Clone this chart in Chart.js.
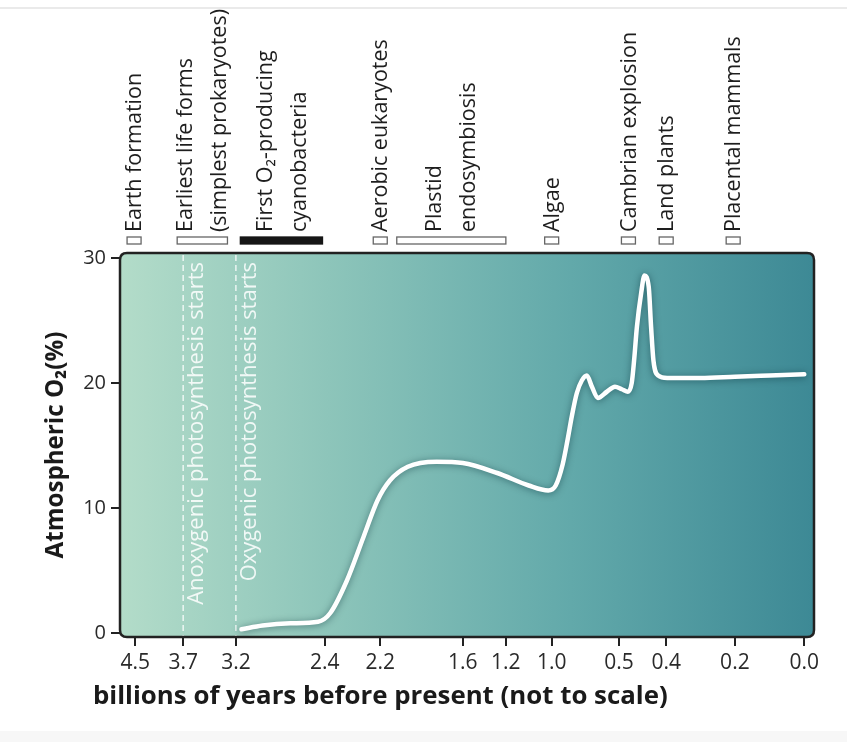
<!DOCTYPE html>
<html><head><meta charset="utf-8">
<script src="https://cdn.jsdelivr.net/npm/chart.js@4.4.1/dist/chart.umd.min.js"></script>
<style>html,body{margin:0;padding:0;background:#fff;}#wrap{width:847px;height:742px;position:relative;}</style>
</head><body><div id="wrap"><canvas id="c"></canvas></div>
<script>
// Not-to-scale time axis: tick values (Ga) and their slot on a 0-100 axis
const tickGa     = [4.5, 3.7, 3.2, 2.4, 2.2, 1.6, 1.2, 1.0, 0.5, 0.4, 0.2, 0.0];
const tickLabels = ['4.5','3.7','3.2','2.4','2.2','1.6','1.2','1.0','0.5','0.4','0.2','0.0'];
const tickSlot   = [2.2, 9.1, 16.7, 29.5, 37.5, 49.4, 55.6, 62.2, 71.9, 78.7, 88.6, 98.6];
const yTicks = [0, 10, 20, 30];

// Atmospheric O2 curve (billions of years before present, %)
const curveGa = [3.15, 2.96, 2.71, 2.46, 2.38, 2.32, 2.26, 2.21, 2.13, 2.00, 1.79, 1.60, 1.28, 1.10, 1.015, 0.97, 0.918, 0.881, 0.851, 0.813, 0.776, 0.739, 0.701, 0.657, 0.590, 0.530, 0.494, 0.481, 0.473, 0.468, 0.462, 0.453, 0.446, 0.437, 0.432, 0.427, 0.417, 0.397, 0.30, 0.20, 0.10, 0.0];
const curveO2 = [0.3, 0.6, 0.78, 0.9, 1.6, 4.2, 7.7, 10.6, 12.2, 13.3, 13.7, 13.6, 12.8, 11.8, 11.4, 11.8, 13.5, 15.5, 17.3, 19.2, 20.2, 20.6, 19.7, 18.8, 19.3, 19.7, 19.5, 19.3, 20.0, 21.8, 24.5, 27.2, 28.6, 27.7, 24.5, 21.8, 20.6, 20.4, 20.4, 20.5, 20.6, 20.7];

// Events along the top
const eventNames = [
  ['Earth formation'],
  ['Earliest life forms', '(simplest prokaryotes)'],
  ['First O₂-producing', 'cyanobacteria'],
  ['Aerobic eukaryotes'],
  ['Plastid', 'endosymbiosis'],
  ['Algae'],
  ['Cambrian explosion'],
  ['Land plants'],
  ['Placental mammals']
];
const eventStartGa = [4.52, 3.8, 3.16, 2.2, 2.08, 1.0, 0.48, 0.4, 0.205];
const eventEndGa   = [4.52, 3.28, 2.42, 2.2, 1.2, 1.0, 0.48, 0.4, 0.205];
const eventFilled  = [false, false, true, false, false, false, false, false, false];

// Dashed markers inside the plot
const markerGa   = [3.7, 3.2];
const markerText = ['Anoxygenic photosynthesis starts', 'Oxygenic photosynthesis starts'];

const xTitle = 'billions of years before present (not to scale)';
const yTitle = 'Atmospheric O₂(%)';
const titleFamily = '"Liberation Sans Narrow", "Open Sans", sans-serif';

// fit a bold title font size to a target text width
function fitSize(text, target) {
  const m = document.createElement('canvas').getContext('2d');
  m.font = 'bold 100px ' + titleFamily;
  return Math.min(30, 100 * target / m.measureText(text).width);
}
const xTitleSize = fitSize(xTitle, 575);
const yTitleSize = fitSize(yTitle, 227);

function gaToSlot(g) {
  let i = 0;
  while (i < tickGa.length - 2 && g < tickGa[i + 1]) i++;
  const g0 = tickGa[i], g1 = tickGa[i + 1], s0 = tickSlot[i], s1 = tickSlot[i + 1];
  return s0 + (g - g0) / (g1 - g0) * (s1 - s0);
}

const points = curveGa.map((g, i) => ({ x: gaToSlot(g), y: curveO2[i] }));

function roundRectPath(ctx, x, y, w, h, r) {
  ctx.beginPath();
  ctx.moveTo(x + r, y);
  ctx.lineTo(x + w - r, y);
  ctx.quadraticCurveTo(x + w, y, x + w, y + r);
  ctx.lineTo(x + w, y + h - r);
  ctx.quadraticCurveTo(x + w, y + h, x + w - r, y + h);
  ctx.lineTo(x + r, y + h);
  ctx.quadraticCurveTo(x, y + h, x, y + h - r);
  ctx.lineTo(x, y + r);
  ctx.quadraticCurveTo(x, y, x + r, y);
  ctx.closePath();
}

const decor = {
  id: 'decor',
  beforeDraw(chart) {
    const { ctx, chartArea: a, width, height } = chart;
    ctx.save();
    ctx.strokeStyle = '#e3e3e3';
    ctx.lineWidth = 1.5;
    ctx.beginPath(); ctx.moveTo(0, 8); ctx.lineTo(width, 8); ctx.stroke();
    ctx.fillStyle = '#f7f7f7';
    ctx.fillRect(0, height - 11, width, 11);
    const grad = ctx.createLinearGradient(a.left, 0, a.right, 0);
    grad.addColorStop(0, '#b3dcc9');
    grad.addColorStop(0.3, '#8dc5ba');
    grad.addColorStop(0.65, '#62a9aa');
    grad.addColorStop(1, '#3d8995');
    roundRectPath(ctx, a.left, a.top, a.right - a.left, a.bottom - a.top, 7);
    ctx.fillStyle = grad;
    ctx.fill();
    ctx.restore();
  },
  beforeDatasetsDraw(chart) {
    const { ctx, chartArea: a, scales: { x } } = chart;
    ctx.save();
    markerGa.forEach((g, i) => {
      const px = x.getPixelForValue(gaToSlot(g));
      ctx.strokeStyle = 'rgba(255,255,255,0.85)';
      ctx.lineWidth = 1.4;
      ctx.setLineDash([6, 4]);
      ctx.beginPath(); ctx.moveTo(px, a.top + 2); ctx.lineTo(px, a.bottom); ctx.stroke();
      ctx.setLineDash([]);
      ctx.save();
      ctx.translate(px + 14, a.top + 9);
      ctx.rotate(-Math.PI / 2);
      ctx.fillStyle = 'rgba(255,255,255,0.85)';
      ctx.font = '22px "Open Sans"';
      ctx.textAlign = 'right';
      ctx.textBaseline = 'middle';
      ctx.fillText(markerText[i], 0, 0);
      ctx.restore();
    });
    ctx.restore();
  },
  beforeDatasetDraw(chart) {
    const ctx = chart.ctx;
    ctx.save();
    ctx.shadowColor = 'rgba(0,40,50,0.5)';
    ctx.shadowBlur = 7;
    ctx.shadowOffsetY = 1;
  },
  afterDatasetDraw(chart) {
    chart.ctx.restore();
  },
  afterDraw(chart) {
    const { ctx, chartArea: a, scales: { x } } = chart;
    ctx.save();
    // plot frame
    roundRectPath(ctx, a.left, a.top, a.right - a.left, a.bottom - a.top, 7);
    ctx.strokeStyle = '#222';
    ctx.lineWidth = 2.5;
    ctx.stroke();
    // event boxes & labels
    const boxTop = a.top - 16, boxH = 7;
    eventNames.forEach((lines, i) => {
      let x0 = x.getPixelForValue(gaToSlot(eventStartGa[i]));
      let x1 = x.getPixelForValue(gaToSlot(eventEndGa[i]));
      if (x1 - x0 < 14) { const c = (x0 + x1) / 2; x0 = c - 7; x1 = c + 7; }
      ctx.fillStyle = eventFilled[i] ? '#161616' : '#fff';
      ctx.fillRect(x0, boxTop, x1 - x0, boxH);
      ctx.strokeStyle = eventFilled[i] ? '#161616' : '#666';
      ctx.lineWidth = 1.3;
      ctx.strokeRect(x0, boxTop, x1 - x0, boxH);
      const c = (x0 + x1) / 2;
      lines.forEach((t, j) => {
        const lx = c + (j - (lines.length - 1) / 2) * 34;
        ctx.save();
        ctx.translate(lx + 1, boxTop - 5);
        ctx.rotate(-Math.PI / 2);
        ctx.fillStyle = '#1e1e1e';
        ctx.font = '21.5px "Open Sans"';
        ctx.textAlign = 'left';
        ctx.textBaseline = 'middle';
        ctx.fillText(t, 0, 0);
        ctx.restore();
      });
    });
    // x axis title
    ctx.fillStyle = '#1a1a1a';
    ctx.font = 'bold ' + xTitleSize + 'px ' + titleFamily;
    ctx.textAlign = 'left';
    ctx.textBaseline = 'middle';
    ctx.fillText(xTitle, a.left - 27, a.bottom + 60);
    ctx.restore();
  }
};

new Chart(document.getElementById('c'), {
  type: 'line',
  data: {
    datasets: [{
      data: points,
      borderColor: '#ffffff',
      borderWidth: 4.5,
      borderCapStyle: 'round',
      borderJoinStyle: 'round',
      pointRadius: 0,
      cubicInterpolationMode: 'monotone',
      fill: false
    }]
  },
  options: {
    responsive: true,
    maintainAspectRatio: false,
    animation: false,
    events: [],
    layout: { padding: { top: 253, right: 33, left: 0, bottom: 0 } },
    plugins: { legend: { display: false }, tooltip: { enabled: false } },
    scales: {
      x: {
        type: 'linear', min: 0, max: 100,
        afterBuildTicks(s) { s.ticks = tickSlot.map(v => ({ value: v })); },
        afterFit(s) { s.height = 105; },
        ticks: {
          autoSkip: false, maxRotation: 0, padding: 4,
          color: '#2a2a2a', font: { family: 'Open Sans', size: 21 },
          callback: (v, i) => tickLabels[i]
        },
        grid: { drawOnChartArea: false, tickLength: 9, color: '#222', lineWidth: 2 },
        border: { display: false }
      },
      y: {
        type: 'linear', min: -0.32, max: 30.4,
        afterBuildTicks(s) { s.ticks = yTicks.map(v => ({ value: v })); },
        afterFit(s) { s.width = 120; },
        ticks: { padding: 5, color: '#2a2a2a', font: { family: 'Open Sans', size: 20 } },
        grid: { drawOnChartArea: false, tickLength: 9, color: '#222', lineWidth: 2 },
        border: { display: false },
        title: {
          display: true, text: yTitle, color: '#1a1a1a',
          font: { family: titleFamily, size: yTitleSize, weight: 'bold' },
          padding: { top: Math.max(0, 56 - yTitleSize * 0.6), bottom: 0 }
        }
      }
    }
  },
  plugins: [decor]
});
</script></body></html>
